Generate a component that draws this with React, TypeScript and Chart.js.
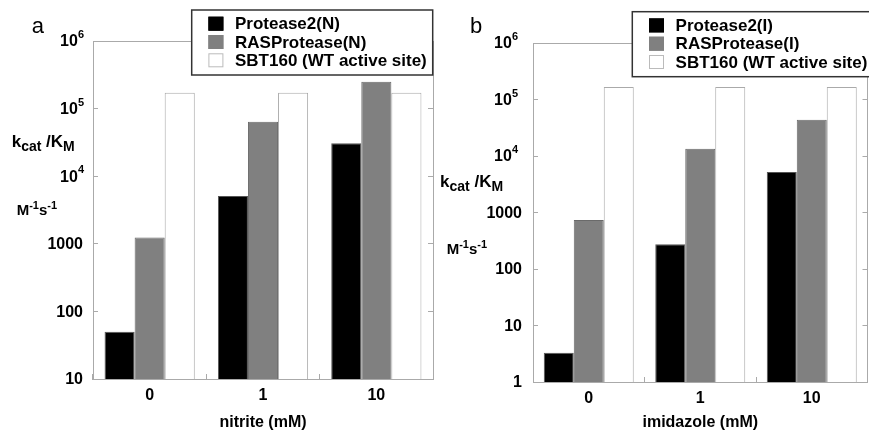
import React, { useEffect, useRef } from 'react';
import { Chart, registerables } from 'chart.js';

Chart.register(...registerables);

const FONT = '"Liberation Sans", Arial, sans-serif';
Chart.defaults.font.family = FONT;

// ---- data ----
const categories = ['0', '1', '10'];

const seriesLabelsA = ['Protease2(N)', 'RASProtease(N)', 'SBT160 (WT active site)'];
const protease2A = [50, 5100, 30600];
const rasProteaseA = [1240, 63800, 249000];
const sbt160A = [171000, 171000, 171000];

const seriesLabelsB = ['Protease2(I)', 'RASProtease(I)', 'SBT160 (WT active site)'];
const protease2B = [3.3, 275, 5190];
const rasProteaseB = [740, 13400, 43800];
const sbt160B = [166000, 166000, 166000];

const yTicksA = [10, 100, 1000, 1e4, 1e5, 1e6];
const yTickLabelsA = ['10', '100', '1000', '10^4', '10^5', '10^6'];
const yTicksB = [1, 10, 100, 1000, 1e4, 1e5, 1e6];
const yTickLabelsB = ['1', '10', '100', '1000', '10^4', '10^5', '10^6'];

const xTitleA = 'nitrite (mM)';
const xTitleB = 'imidazole (mM)';
const panelLabelA = 'a';
const panelLabelB = 'b';

const seriesFill = ['#000000', '#808080', '#ffffff'];
const seriesBorder = ['#555555', '#6a6a6a', '#aaaaaa'];
const swatchBorder = ['#000000', '#808080', '#bbbbbb'];

type Run = [string, number, number];

function drawRuns(ctx: CanvasRenderingContext2D, x: number, y: number, runs: Run[]) {
  let cx = x;
  ctx.textAlign = 'left';
  ctx.textBaseline = 'alphabetic';
  for (const [t, size, dy] of runs) {
    ctx.font = `bold ${size}px ${FONT}`;
    ctx.fillText(t, cx, y + dy);
    cx += ctx.measureText(t).width;
  }
}

const decoPlugin = {
  id: 'deco',
  beforeDatasetsDraw(chart: any) {
    const { ctx, chartArea } = chart;
    ctx.save();
    ctx.strokeStyle = '#aaaaaa';
    ctx.lineWidth = 1;
    const y = Math.round(chartArea.top) + 0.5;
    ctx.beginPath();
    ctx.moveTo(chartArea.left, y);
    ctx.lineTo(chartArea.right, y);
    ctx.stroke();
    ctx.restore();
  },
  afterDraw(chart: any) {
    const o = chart.options.plugins.deco;
    const ctx: CanvasRenderingContext2D = chart.ctx;
    const yScale = chart.scales.y;
    ctx.save();
    ctx.fillStyle = '#000';
    // y tick labels (with real superscripts), positioned by the log scale
    o.yTicks.forEach((v: number, i: number) => {
      const py = yScale.getPixelForValue(v);
      const lab: string = o.yTickLabels[i];
      ctx.textBaseline = 'middle';
      ctx.textAlign = 'left';
      if (lab.includes('^')) {
        const [base, exp] = lab.split('^');
        ctx.font = `bold 16px ${FONT}`;
        const wb = ctx.measureText(base).width;
        ctx.font = `bold 11px ${FONT}`;
        const we = ctx.measureText(exp).width;
        const right = chart.chartArea.left - o.powGap;
        ctx.font = `bold 16px ${FONT}`;
        ctx.fillText(base, right - we - wb, py + 1);
        ctx.font = `bold 11px ${FONT}`;
        ctx.fillText(exp, right - we, py - 6);
      } else {
        ctx.font = `bold 16px ${FONT}`;
        ctx.textAlign = 'right';
        ctx.fillText(lab, chart.chartArea.left - o.plainGap, py + 1);
      }
    });
    // panel label
    ctx.font = `${o.panelSize}px ${FONT}`;
    ctx.textAlign = 'left';
    ctx.textBaseline = 'alphabetic';
    ctx.fillText(o.panel, o.panelX, o.panelY);
    // y-axis title
    drawRuns(ctx, o.kX, o.kY, [['k', 17, 0], ['cat', 14, 4], [' /K', 17, 0], ['M', 14, 4]]);
    drawRuns(ctx, o.mX, o.mY, [['M', 15, 0], ['-1', 11, -6], ['s', 15, 0], ['-1', 11, -6]]);
    // legend
    const lx = o.legendX, ly = o.legendY, lw = 241, lh = 65;
    ctx.fillStyle = '#fff';
    ctx.fillRect(lx, ly, lw, lh);
    ctx.strokeStyle = '#333';
    ctx.lineWidth = 1.5;
    ctx.strokeRect(lx, ly, lw, lh);
    chart.data.datasets.forEach((ds: any, i: number) => {
      const sy = ly + 6.7 + i * 18.3;
      ctx.fillStyle = ds.backgroundColor;
      ctx.fillRect(lx + 16.7, sy, 15, 14);
      ctx.strokeStyle = swatchBorder[i];
      ctx.lineWidth = 1;
      ctx.strokeRect(lx + 16.7 + 0.5, sy + 0.5, 14, 13);
      ctx.fillStyle = '#000';
      ctx.font = `bold 17px ${FONT}`;
      ctx.textBaseline = 'middle';
      ctx.textAlign = 'left';
      ctx.fillText(ds.label, lx + 43.3, sy + 8);
    });
    ctx.restore();
  },
};

function makeConfig(p: any): any {
  const datasets = [p.s1, p.s2, p.s3].map((d: number[], i: number) => ({
    label: p.labels[i],
    data: d,
    backgroundColor: seriesFill[i],
    borderColor: seriesBorder[i],
    borderWidth: 1,
  }));
  const setTicks = (s: any) => {
    s.ticks = p.yTicks.map((v: number) => ({ value: v }));
  };
  return {
    type: 'bar',
    data: { labels: categories, datasets },
    options: {
      responsive: false,
      animation: false,
      devicePixelRatio: 1,
      layout: { padding: { left: 0, right: p.padRight, top: p.padTop, bottom: 0 } },
      datasets: { bar: { barPercentage: 1, categoryPercentage: p.catPct } },
      plugins: {
        legend: { display: false },
        tooltip: { enabled: false },
        deco: { ...p.deco, yTicks: p.yTicks, yTickLabels: p.yTickLabels },
      },
      scales: {
        x: {
          grid: { offset: true, drawOnChartArea: false, drawTicks: true, tickLength: -5, color: '#aaaaaa' },
          border: { color: '#aaaaaa' },
          ticks: { font: { size: 16, weight: 'bold' }, color: '#000', padding: 12 },
          title: { display: true, text: p.xTitle, font: { size: 16, weight: 'bold' }, color: '#000', padding: 0 },
          afterFit: (s: any) => { s.height = p.xH; },
        },
        y: {
          type: 'logarithmic',
          position: 'left',
          min: p.yTicks[0],
          max: p.yTicks[p.yTicks.length - 1],
          afterBuildTicks: setTicks,
          ticks: { display: false },
          grid: { drawOnChartArea: false, drawTicks: true, tickLength: -5, color: '#aaaaaa' },
          border: { color: '#aaaaaa' },
          afterFit: (s: any) => { s.width = p.yW; },
        },
        y2: {
          type: 'logarithmic',
          position: 'right',
          min: p.yTicks[0],
          max: p.yTicks[p.yTicks.length - 1],
          afterBuildTicks: setTicks,
          ticks: { display: false },
          grid: { drawOnChartArea: false, drawTicks: true, tickLength: -5, color: '#aaaaaa' },
          border: { color: '#aaaaaa' },
          afterFit: (s: any) => { s.width = 0; },
        },
      },
    },
    plugins: [decoPlugin],
  };
}

export default function App() {
  const refA = useRef<HTMLCanvasElement>(null);
  const refB = useRef<HTMLCanvasElement>(null);

  useEffect(() => {
    const chartA = new Chart(refA.current!, makeConfig({
      labels: seriesLabelsA, s1: protease2A, s2: rasProteaseA, s3: sbt160A,
      yTicks: yTicksA, yTickLabels: yTickLabelsA, xTitle: xTitleA,
      padRight: 3, padTop: 41, xH: 53, yW: 93, catPct: 0.796,
      deco: { panel: panelLabelA, panelSize: 22, panelX: 31.7, panelY: 33.3, kX: 11.7, kY: 146.7, mX: 16.7, mY: 215, legendX: 191.7, legendY: 10, plainGap: 10, powGap: 9 },
    }));
    const chartB = new Chart(refB.current!, makeConfig({
      labels: seriesLabelsB, s1: protease2B, s2: rasProteaseB, s3: sbt160B,
      yTicks: yTicksB, yTickLabels: yTickLabelsB, xTitle: xTitleB,
      padRight: 1.5, padTop: 43, xH: 50, yW: 97, catPct: 0.807,
      deco: { panel: panelLabelB, panelSize: 22, panelX: 34, panelY: 33.3, kX: 4, kY: 186.7, mX: 10.7, mY: 254, legendX: 196.3, legendY: 11.7, plainGap: 11, powGap: 15 },
    }));
    return () => { chartA.destroy(); chartB.destroy(); };
  }, []);

  return (
    <div style={{ position: 'absolute', left: 0, top: 0, width: 869, height: 432, background: '#fff', overflow: 'hidden' }}>
      <canvas ref={refA} width={436} height={432} style={{ position: 'absolute', left: 0, top: 0, width: 436, height: 432 }} />
      <canvas ref={refB} width={433} height={432} style={{ position: 'absolute', left: 436, top: 0, width: 433, height: 432 }} />
    </div>
  );
}
